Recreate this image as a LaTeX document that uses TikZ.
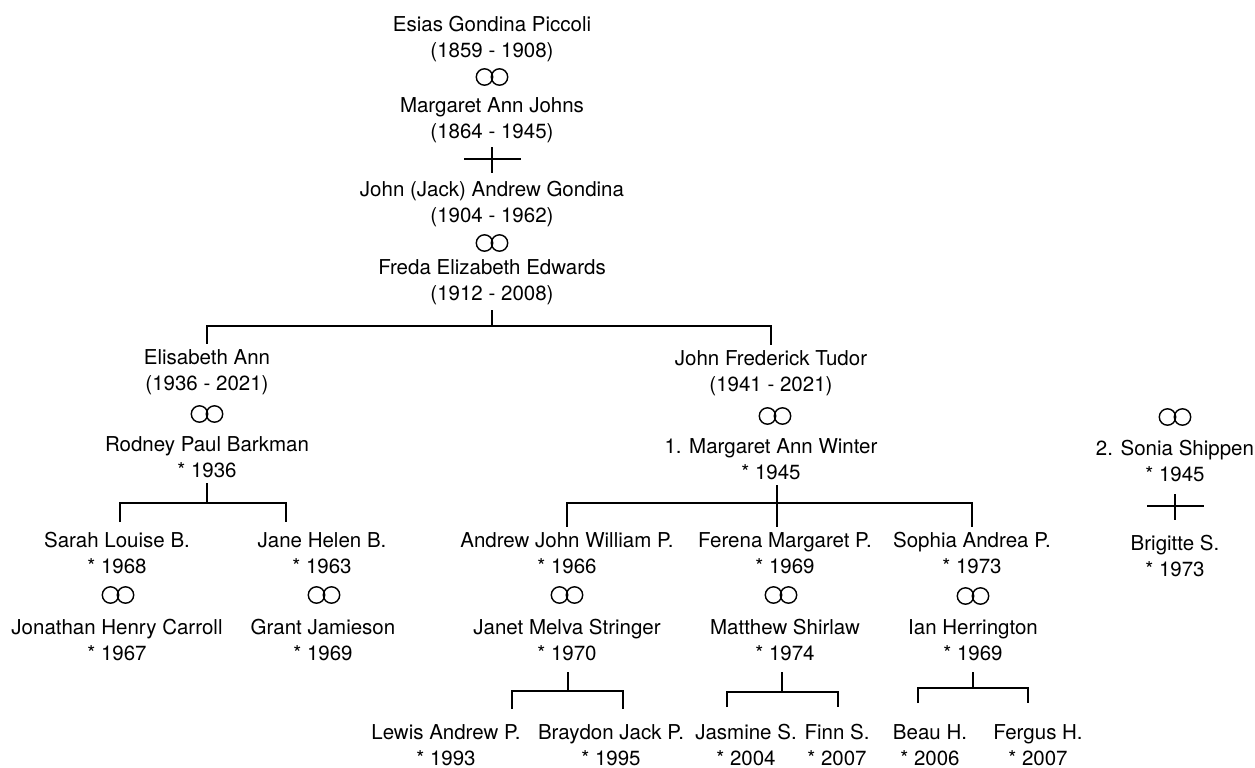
\documentclass[tikz,border=0pt]{standalone}
\usepackage{fontspec}
\setmainfont{TeX Gyre Heros}
\tikzset{
  person/.style={align=center,inner sep=2.5pt,font=\fontsize{10.25pt}{13pt}\selectfont},
  tree/.style={line width=0.9pt},
  marr/.pic={\draw[line width=0.7pt] (-7.5,0) circle[radius=4.1pt] (7.5,0) circle[radius=4.1pt];},
  desc/.pic={\draw[tree] (-28,0)--(29,0) (0,-12)--(0,14);}
}
\begin{document}
\begin{tikzpicture}[x=0.5pt,y=-0.5pt]
\useasboundingbox (0,0) rectangle (1255,767);
% first generations
\node[person] (esias) at (492,39) {Esias Gondina Piccoli\\(1859 - 1908)};
\node[person] (johns) at (492,120) {Margaret Ann Johns\\(1864 - 1945)};
\node[person] (jack) at (492,204) {John (Jack) Andrew Gondina\\(1904 - 1962)};
\node[person] (freda) at (492,282) {Freda Elizabeth Edwards\\(1912 - 2008)};
% children
\node[person] (elisabeth) at (207,372) {Elisabeth Ann\\(1936 - 2021)};
\node[person] (rodney) at (207,457) {Rodney Paul Barkman\\* 1936};
\node[person] (johnf) at (771,373) {John Frederick Tudor\\(1941 - 2021)};
\node[person] (winter) at (771,459) {1. Margaret Ann Winter\\* 1945};
\node[person] (sonia) at (1175,461) {2. Sonia Shippen\\* 1945};
\node[person] (brigitte) at (1175,556) {Brigitte S.\\* 1973};
% grandchildren
\node[person] (sarah) at (117,553) {Sarah Louise B.\\* 1968};
\node[person] (jonathan) at (117,640) {Jonathan Henry Carroll\\* 1967};
\node[person] (jane) at (322,553) {Jane Helen B.\\* 1963};
\node[person] (grant) at (323,640) {Grant Jamieson\\* 1969};
\node[person] (andrew) at (567,553) {Andrew John William P.\\* 1966};
\node[person] (janet) at (567,640) {Janet Melva Stringer\\* 1970};
\node[person] (ferena) at (785,553) {Ferena Margaret P.\\* 1969};
\node[person] (matthew) at (785,640) {Matthew Shirlaw\\* 1974};
\node[person] (sophia) at (972,553) {Sophia Andrea P.\\* 1973};
\node[person] (ian) at (973,640) {Ian Herrington\\* 1969};
% great-grandchildren
\node[person] (lewis) at (446,745) {Lewis Andrew P.\\* 1993};
\node[person] (braydon) at (611,745) {Braydon Jack P.\\* 1995};
\node[person] (jasmine) at (746,745) {Jasmine S.\\* 2004};
\node[person] (finn) at (837,745) {Finn S.\\* 2007};
\node[person] (beau) at (930,745) {Beau H.\\* 2006};
\node[person] (fergus) at (1038,745) {Fergus H.\\* 2007};
% marriages and descent
\foreach \p in {(492,77),(492,243),(207,414),(775,416),(118,595),(324,595),(567,595),(781,595),(973,596),(1175,417)}
  \pic at \p {marr};
\pic at (492,159) {desc};
\pic at (1175,506) {desc};
% bars
\coordinate (b1) at (492,326); \coordinate (b2) at (207,503); \coordinate (b3) at (777,503);
\coordinate (b4) at (568,691); \coordinate (b5) at (782,692); \coordinate (b6) at (973,688);
\foreach \n/\x/\y in {dsarah/120/522,djane/286/522,dlewis/512/709,dbraydon/623/709,djasmine/727/707,dfinn/838/707,dbeau/918/703,dfergus/1028/703}
  \coordinate (\n) at (\x,\y);
\draw[tree] (freda.south) -- (b1);
\draw[tree] (elisabeth.north) |- (b1) -| (johnf.north);
\draw[tree] (rodney.south) -- (b2);
\draw[tree] (dsarah) |- (b2) -| (djane);
\draw[tree] (winter.south -| b3) -- (ferena.north -| b3);
\draw[tree] (andrew.north) |- (b3) -| (sophia.north);
\draw[tree,shorten <=3pt] (janet.south -| b4) -- (b4);
\draw[tree] (dlewis) |- (b4) -| (dbraydon);
\draw[tree,shorten <=3pt] (matthew.south -| b5) -- (b5);
\draw[tree] (djasmine) |- (b5) -| (dfinn);
\draw[tree,shorten <=3pt] (ian.south -| b6) -- (b6);
\draw[tree] (dbeau) |- (b6) -| (dfergus);
\end{tikzpicture}
\end{document}
